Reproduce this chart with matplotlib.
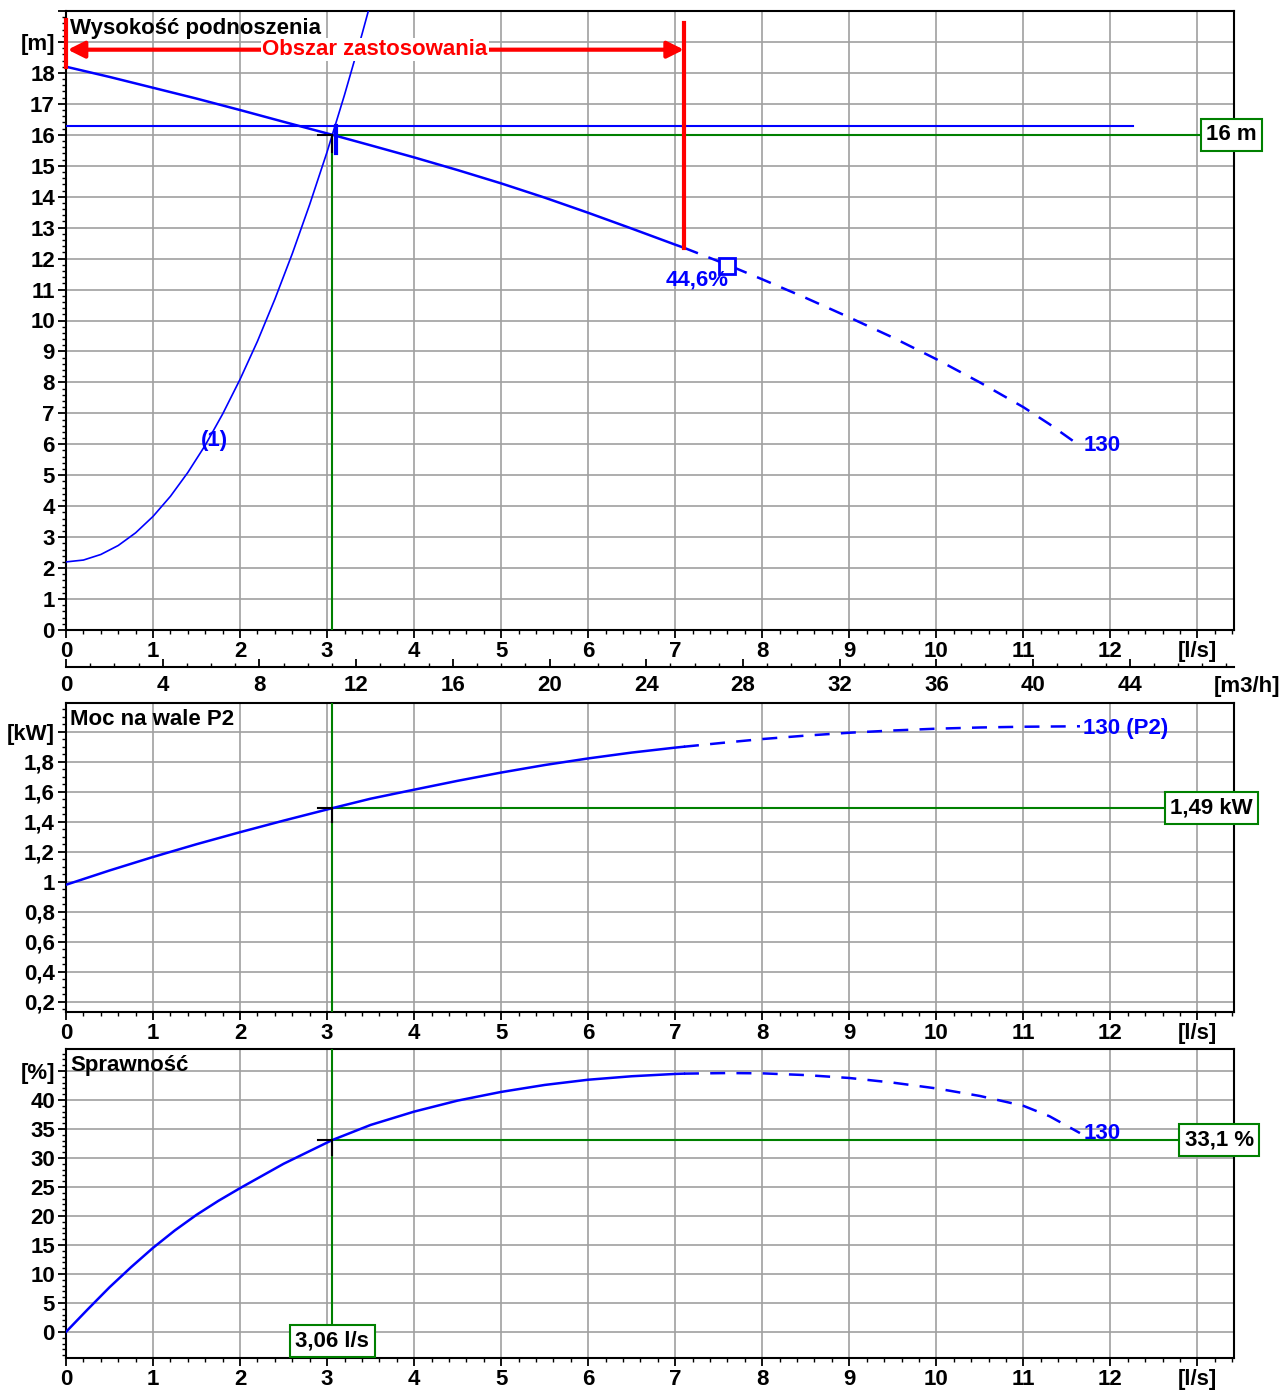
import matplotlib
matplotlib.use("Agg")
import matplotlib.pyplot as plt
from matplotlib.ticker import MultipleLocator

plt.rcParams['font.family'] = ['Liberation Sans', 'DejaVu Sans']
plt.rcParams['font.weight'] = 'bold'

# pump head curve (solid up to q_limit, dashed beyond)
q_head = [0, 0.5, 1, 1.5, 2, 2.5, 3.06, 3.5, 4, 4.5, 5, 5.5, 6, 6.5, 7, 7.1,
          7.6, 8, 8.5, 9, 9.5, 10, 10.5, 11, 11.3, 11.65]
h_head = [18.2, 17.87, 17.52, 17.17, 16.8, 16.42, 16.0, 15.66, 15.27, 14.86, 14.43, 13.97, 13.48, 12.97, 12.45, 12.35,
          11.8, 11.33, 10.73, 10.1, 9.45, 8.75, 8.0, 7.2, 6.65, 5.95]

# system curve (1)
q_sys = [0, 0.2, 0.4, 0.6, 0.8, 1.0, 1.2, 1.4, 1.6, 1.8, 2.0, 2.2, 2.4, 2.6, 2.8, 3.0, 3.2, 3.4, 3.6]
h_sys = [2.2, 2.26, 2.44, 2.73, 3.14, 3.67, 4.32, 5.09, 5.97, 6.98, 8.1, 9.33, 10.69, 12.16, 13.75, 15.45, 17.29,
         19.24, 21.3]

# shaft power P2
q_p2 = [0, 0.5, 1, 1.5, 2, 2.5, 3.06, 3.5, 4, 4.5, 5, 5.5, 6, 6.5, 7, 7.1,
        7.6, 8, 8.5, 9, 9.5, 10, 10.5, 11, 11.65]
p2 = [0.98, 1.075, 1.165, 1.25, 1.33, 1.407, 1.49, 1.553, 1.613, 1.672, 1.727, 1.777, 1.821, 1.86, 1.893, 1.899,
      1.928, 1.95, 1.973, 1.992, 2.007, 2.019, 2.027, 2.032, 2.035]

# efficiency
q_eta = [0, 0.25, 0.5, 0.75, 1, 1.25, 1.5, 1.75, 2, 2.5, 3.06, 3.5, 4, 4.5, 5, 5.5, 6, 6.5, 7, 7.1,
         7.6, 8, 8.5, 9, 9.5, 10, 10.5, 11, 11.3, 11.65]
eta = [0, 3.9, 7.7, 11.2, 14.5, 17.5, 20.2, 22.6, 24.8, 29.0, 33.1, 35.7, 38.0, 39.9, 41.4, 42.6, 43.5, 44.1, 44.5,
       44.55, 44.65, 44.6, 44.3, 43.8, 43.0, 42.0, 40.7, 39.0, 37.2, 34.3]

q_limit = 7.1
q_op = 3.06
h_op = 16.0
p_op = 1.49
eta_op = 33.1
h_req = 16.3
q_best = 7.6
h_best = 11.75

BLUE = "#0000ff"
GREEN = "#008000"
RED = "#ff0000"
FS = 16

fig = plt.figure(figsize=(12.88, 13.91), dpi=100)
L, W = 66 / 1288, 1168 / 1288
ax1 = fig.add_axes([L, 761 / 1391, W, 619 / 1391])
ax2 = fig.add_axes([L, 379 / 1391, W, 309 / 1391])
ax3 = fig.add_axes([L, 33 / 1391, W, 309 / 1391])


def style(ax, ylim, yticks, ylabels, yminor):
    ax.set_xlim(0, 13.42)
    ax.set_ylim(*ylim)
    ax.set_xticks(range(14))
    ax.set_xticklabels([str(i) for i in range(13)] + ["[l/s]"], fontsize=FS, fontweight='bold')
    ax.xaxis.set_minor_locator(MultipleLocator(0.2))
    ax.set_yticks(yticks)
    ax.set_yticklabels(ylabels, fontsize=FS, fontweight='bold')
    ax.yaxis.set_minor_locator(MultipleLocator(yminor))
    ax.grid(True, which='major', color='#a0a0a0', lw=1.2)
    ax.set_axisbelow(True)
    ax.tick_params(which='major', direction='out', length=6, width=1.3, pad=2)
    ax.tick_params(which='minor', direction='out', length=3, width=1)
    for s in ax.spines.values():
        s.set_linewidth(1.5)


def split_plot(ax, q, v, lw=1.8):
    solid_q = [a for a in q if a <= q_limit]
    solid_v = [b for a, b in zip(q, v) if a <= q_limit]
    dash_q = [a for a in q if a >= q_limit]
    dash_v = [b for a, b in zip(q, v) if a >= q_limit]
    ax.plot(solid_q, solid_v, color=BLUE, lw=lw, zorder=4)
    ln, = ax.plot(dash_q, dash_v, color=BLUE, lw=lw, zorder=4)
    ln.set_dashes((6, 4.5))


def value_box(ax, x, y, txt):
    ax.text(x, y, txt, ha='center', va='center', fontsize=FS, fontweight='bold', clip_on=False, zorder=10,
            bbox=dict(boxstyle='square,pad=0.25', fc='white', ec=GREEN, lw=1.5))


# ---- head ----
style(ax1, (0, 19.97), list(range(21)), [str(i) for i in range(19)] + ["[m]", ""], 0.2)
split_plot(ax1, q_head, h_head)
ax1.plot(q_sys, h_sys, color=BLUE, lw=1.2, zorder=4)
ax1.plot([0, 12.26], [h_req, h_req], color=BLUE, lw=1.5, zorder=4)
ax1.plot([3.1, 3.1], [15.4, h_req], color=BLUE, lw=3, zorder=5)
ax1.plot([q_op, q_op], [0, h_op], color=GREEN, lw=1.5, zorder=3)
ax1.plot([q_op, 13.3], [h_op, h_op], color=GREEN, lw=1.5, zorder=3, clip_on=False)
ax1.plot([q_op - 0.17, q_op], [h_op, h_op], color='black', lw=1.5, zorder=6)
ax1.plot([q_op, q_op], [h_op, h_op - 0.55], color='black', lw=1.5, zorder=6)
ax1.plot([q_best], [h_best], marker='s', ms=11, mfc='white', mec=BLUE, mew=2, zorder=7)
ax1.text(7.25, 11.3, "44,6%", color=BLUE, ha='center', va='center', fontsize=FS, fontweight='bold', zorder=8)
ax1.text(1.71, 6.13, "(1)", color=BLUE, ha='center', va='center', fontsize=FS, fontweight='bold', zorder=8)
ax1.text(11.69, 5.97, "130", color=BLUE, ha='left', va='center', fontsize=FS, fontweight='bold', zorder=8)
ax1.text(0.05, 19.45, "Wysokość podnoszenia", ha='left', va='center', fontsize=FS, fontweight='bold', zorder=8)
ax1.plot([0, 0], [18.2, 19.7], color=RED, lw=3, zorder=6, clip_on=False)
ax1.plot([q_limit, q_limit], [12.35, 19.6], color=RED, lw=3, zorder=6)
ax1.annotate("", xy=(0.02, 18.75), xytext=(q_limit, 18.75),
             arrowprops=dict(arrowstyle='<|-|>', color=RED, lw=3, mutation_scale=25, shrinkA=0, shrinkB=0), zorder=6)
ax1.text(3.55, 18.75, "Obszar zastosowania", color=RED, ha='center', va='center', fontsize=FS, fontweight='bold',
         zorder=7, bbox=dict(boxstyle='square,pad=0.05', fc='white', ec='none'))
value_box(ax1, 13.39, h_op, "16 m")

sec = ax1.secondary_xaxis(-0.0598, functions=(lambda q: q * 3.6, lambda m: m / 3.6))
sec.set_xticks(range(0, 48, 4))
sec.set_xticklabels([str(i) for i in range(0, 48, 4)], fontsize=FS, fontweight='bold')
sec.xaxis.set_minor_locator(MultipleLocator(1))
sec.tick_params(which='major', direction='in', length=6, width=1.3, pad=6)
sec.tick_params(which='minor', direction='in', length=3, width=1)
sec.spines['bottom'].set_linewidth(1.5)
ax1.text(13.57, -1.83, "[m3/h]", ha='center', va='center', fontsize=FS, fontweight='bold', clip_on=False)

# ---- power ----
p_ticks = [0.2, 0.4, 0.6, 0.8, 1.0, 1.2, 1.4, 1.6, 1.8, 2.0]
p_labels = ["0,2", "0,4", "0,6", "0,8", "1", "1,2", "1,4", "1,6", "1,8", "[kW]"]
style(ax2, (0.133, 2.19), p_ticks, p_labels, 0.05)
split_plot(ax2, q_p2, p2)
ax2.axvline(q_op, color=GREEN, lw=1.5, zorder=3)
ax2.plot([q_op, 12.9], [p_op, p_op], color=GREEN, lw=1.5, zorder=3)
ax2.plot([q_op - 0.17, q_op], [p_op, p_op], color='black', lw=1.5, zorder=6)
ax2.plot([q_op, q_op], [p_op, p_op - 0.09], color='black', lw=1.5, zorder=6)
ax2.text(11.69, 2.02, "130 (P2)", color=BLUE, ha='left', va='center', fontsize=FS, fontweight='bold', zorder=8)
ax2.text(0.05, 2.08, "Moc na wale P2", ha='left', va='center', fontsize=FS, fontweight='bold', zorder=8)
value_box(ax2, 13.16, p_op, "1,49 kW")

# ---- efficiency ----
e_ticks = list(range(0, 50, 5))
e_labels = [str(i) for i in range(0, 45, 5)] + ["[%]"]
style(ax3, (-4.5, 48.8), e_ticks, e_labels, 1)
split_plot(ax3, q_eta, eta)
ax3.plot([q_op, q_op], [-1.5, 48.8], color=GREEN, lw=1.5, zorder=3)
ax3.plot([q_op, 13.1], [eta_op, eta_op], color=GREEN, lw=1.5, zorder=3)
ax3.plot([q_op - 0.17, q_op], [eta_op, eta_op], color='black', lw=1.5, zorder=6)
ax3.plot([q_op, q_op], [eta_op, eta_op - 2.6], color='black', lw=1.5, zorder=6)
ax3.text(11.69, 34.3, "130", color=BLUE, ha='left', va='center', fontsize=FS, fontweight='bold', zorder=8)
ax3.text(0.05, 46.0, "Sprawność", ha='left', va='center', fontsize=FS, fontweight='bold', zorder=8)
value_box(ax3, 13.25, eta_op, "33,1 %")
value_box(ax3, q_op, -1.55, "3,06 l/s")

fig.savefig("out.png", dpi=100)
